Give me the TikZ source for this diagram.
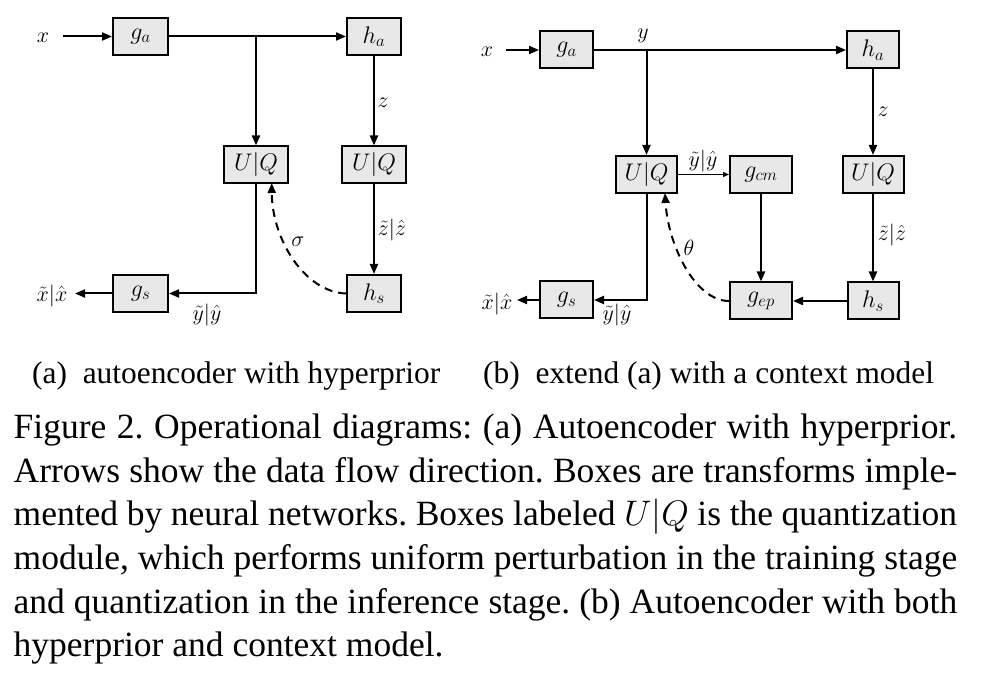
\RequirePackage{fix-cm}
\documentclass[tikz,border=0pt]{standalone}
\usepackage{fontspec}
\setmainfont{Liberation Serif}
\usetikzlibrary{arrows.meta}
\frenchspacing
\begin{document}
\begin{tikzpicture}[x=1pt,y=-1pt,
  blk/.style={draw=black, line width=2pt, fill=gray!18, inner sep=0pt,
    minimum width=#1, minimum height=37pt, font=\fontsize{24}{28}\selectfont},
  blk/.default=55pt,
  lbl/.style={inner sep=0pt, font=\fontsize{22}{26}\selectfont},
  flow/.style={line width=2pt, -{Triangle[length=10pt,width=8pt]}},
  thinflow/.style={line width=1.2pt, -{Triangle[length=6pt,width=5pt]}},
  fb/.style={line width=2pt, dash pattern=on 8pt off 6pt, -{Triangle[length=10pt,width=8pt]}},
  capline/.style={anchor=base west, inner sep=0pt, font=\fontsize{35.5}{43.8}\selectfont},
  subcap/.style={anchor=base west, inner sep=0pt, font=\fontsize{31.4}{36}\selectfont}]
\useasboundingbox (0,0) rectangle (997,679);

% ---------- (a) ----------
\node[blk=55pt] (ga) at (140.5,36.5) {$g_a$};
\node[blk=54pt] (ha) at (374,36.5) {$h_a$};
\node[blk=64pt] (uq1) at (256,165) {$U|Q$};
\node[blk=64pt] (uq2) at (374,165) {$U|Q$};
\node[blk=54pt] (hs) at (374,293.5) {$h_s$};
\node[blk=55pt] (gs) at (140.5,293.5) {$g_s$};

\node[lbl] (xa) at (43,38) {$x$};
\coordinate (xin) at (62.7,36.5);
\coordinate (xout) at (75,293.5);
\node[lbl] (xhata) at (52,296) {$\tilde{x}|\hat{x}$};
\node[lbl] (za) at (383,103) {$z$};
\node[lbl] (ztha) at (392,230) {$\tilde{z}|\hat{z}$};
\node[lbl] (ytha) at (207,315) {$\tilde{y}|\hat{y}$};
\node[lbl] (sig) at (298,242) {$\sigma$};
\coordinate (fbA) at (271.7,183);

\draw[flow] (xin) -- (ga.west);
\draw[flow] (ga.east) -- (ha.west);
\draw[flow] (ga.east -| uq1.north) -- (uq1.north);
\draw[flow] (ha.south) -- (uq2.north);
\draw[flow] (uq2.south) -- (hs.north);
\draw[flow] (uq1.south) -- (uq1.south |- gs.east) -- (gs.east);
\draw[flow] (gs.west) -- (xout);
\draw[fb] (hs.west) .. controls (305,292) and (272,240) .. (fbA);

% ---------- (b) ----------
\node[blk=53pt] (ga2) at (566.5,50) {$g_a$};
\node[blk=52pt] (ha2) at (873,50) {$h_a$};
\node[blk=61pt] (uq3) at (646.5,174.5) {$U|Q$};
\node[blk=62pt] (gcm) at (761,174.5) {$g_{cm}$};
\node[blk=61pt] (uq4) at (873,174.5) {$U|Q$};
\node[blk=53pt] (gs2) at (566.5,300) {$g_s$};
\node[blk=62pt] (gep) at (761,301) {$g_{ep}$};
\node[blk=51pt] (hs2) at (873,301) {$h_s$};

\node[lbl] (xb) at (487,52) {$x$};
\coordinate (xin2) at (506,50);
\coordinate (xout2) at (517,300);
\node[lbl] (xhatb) at (497,304) {$\tilde{x}|\hat{x}$};
\node[lbl] (yb) at (643,36) {$y$};
\node[lbl] (zb) at (883,112) {$z$};
\node[lbl] (zthb) at (892,235) {$\tilde{z}|\hat{z}$};
\node[lbl] (ythb) at (617,315) {$\tilde{y}|\hat{y}$};
\node[lbl] (ythc) at (703,161) {$\tilde{y}|\hat{y}$};
\node[lbl] (thb) at (689,248) {$\theta$};
\coordinate (fbB) at (665,193);

\draw[flow] (xin2) -- (ga2.west);
\draw[flow] (ga2.east) -- (ha2.west);
\draw[flow] (ga2.east -| uq3.north) -- (uq3.north);
\draw[flow] (ha2.south) -- (uq4.north);
\draw[flow] (uq4.south) -- (hs2.north);
\draw[thinflow] (uq3.east) -- (gcm.west);
\draw[flow] (gcm.south) -- (gep.north);
\draw[flow] (hs2.west) -- (gep.east);
\draw[flow] (uq3.south) -- (uq3.south |- gs2.east) -- (gs2.east);
\draw[flow] (gs2.west) -- (xout2);
\draw[fb] (gep.west) .. controls (695,301) and (668,245) .. (fbB);

% ---------- captions ----------
\node[subcap] (capa) at (32,383) {(a)\enspace autoencoder with hyperprior};
\node[subcap] (capb) at (483,383) {(b)\enspace extend (a) with a context model};

\node[capline] (l1) at (13.5,438) {\makebox[943.5pt][s]{Figure 2. Operational diagrams: (a) Autoencoder with hyperprior.}};
\node[capline] (l2) at (13.5,482) {\makebox[943.5pt][s]{Arrows show the data flow direction. Boxes are transforms imple-}};
\node[capline] (l3) at (13.5,525) {\makebox[943.5pt][s]{mented by neural networks. Boxes labeled $U|Q$ is the quantization}};
\node[capline] (l4) at (13.5,569) {\makebox[943.5pt][s]{module, which performs uniform perturbation in the training stage}};
\node[capline] (l5) at (13.5,613) {\makebox[943.5pt][s]{and quantization in the inference stage. (b) Autoencoder with both}};
\node[capline] (l6) at (13.5,656) {hyperprior and context model.};
\end{tikzpicture}
\end{document}
